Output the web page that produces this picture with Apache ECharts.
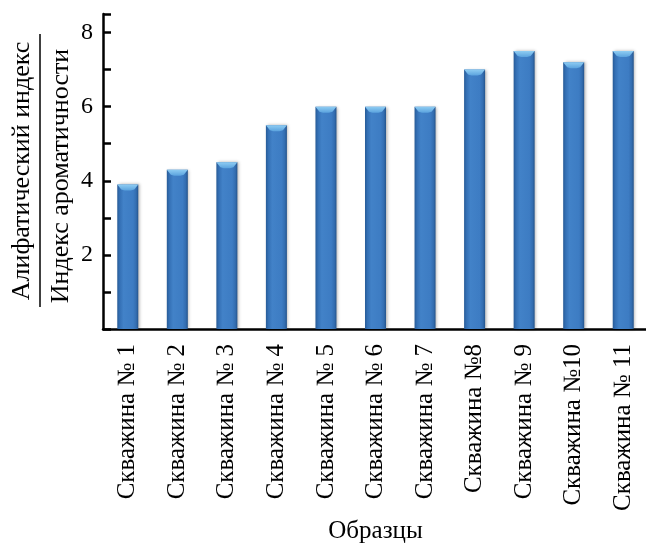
<!DOCTYPE html>
<html>
<head>
<meta charset="utf-8">
<script src="https://cdn.jsdelivr.net/npm/echarts@6/dist/echarts.min.js"></script>
<style>
  html, body { margin: 0; padding: 0; background: #ffffff; }
  #chart { width: 646px; height: 546px; }
</style>
</head>
<body>
<div id="chart"></div>
<script>
// Wells and the aliphatic / aromatic index ratio measured for each sample
var categories = ['Скважина № 1', 'Скважина № 2', 'Скважина № 3', 'Скважина № 4',
  'Скважина № 5', 'Скважина № 6', 'Скважина № 7', 'Скважина №8',
  'Скважина № 9', 'Скважина №10', 'Скважина № 11'];
var ratioValues = [3.9, 4.3, 4.5, 5.5, 6.0, 6.0, 6.0, 7.0, 7.5, 7.2, 7.5];
var yTickLabels = ['2', '4', '6', '8'];

var FONT = '"Liberation Serif", "Times New Roman", serif';

var chart = echarts.init(document.getElementById('chart'), null, { renderer: 'canvas' });

// Bevelled bar face: darker rims at both sides, even blue body
var barFill = new echarts.graphic.LinearGradient(0, 0, 1, 0, [
  { offset: 0.00, color: '#275b97' },
  { offset: 0.12, color: '#3470b5' },
  { offset: 0.30, color: '#4282c8' },
  { offset: 0.75, color: '#3d7cc3' },
  { offset: 0.90, color: '#336db0' },
  { offset: 1.00, color: '#24548c' }
]);

chart.setOption({
  backgroundColor: '#ffffff',
  animation: false,
  grid: { left: 103, right: -2, top: 14, bottom: 217, outerBoundsMode: 'none', containLabel: false },
  xAxis: {
    type: 'category',
    data: categories,
    name: 'Образцы',
    nameLocation: 'middle',
    nameGap: 190,
    nameTextStyle: { fontFamily: FONT, fontSize: 25, color: '#000' },
    axisLine: { lineStyle: { color: '#000', width: 2.5 } },
    axisTick: { inside: true, length: 7, lineStyle: { color: '#000', width: 2.5 } },
    axisLabel: { rotate: 90, margin: 15, fontFamily: FONT, fontSize: 25, color: '#000' }
  },
  yAxis: {
    type: 'value',
    min: 0,
    max: 8.5,
    interval: 2,
    splitLine: { show: false },
    axisLine: { show: true, lineStyle: { color: '#000', width: 2.5 } },
    axisTick: { show: true, inside: true, length: 8, lineStyle: { color: '#000', width: 2.5 } },
    minorTick: { show: true, splitNumber: 2, length: 8, lineStyle: { color: '#000', width: 2.5 } },
    axisLabel: {
      margin: 10,
      fontFamily: FONT, fontSize: 24, color: '#000',
      formatter: function (v) {
        var s = String(v);
        return yTickLabels.indexOf(s) >= 0 ? s : '';
      }
    }
  },
  series: [
    {
      type: 'bar',
      data: ratioValues,
      barWidth: 21,
      itemStyle: {
        color: barFill,
        shadowColor: 'rgba(0,0,0,0.3)',
        shadowBlur: 3,
        shadowOffsetX: 1.5,
        shadowOffsetY: 0
      }
    },
    {
      // light chamfer on the top of each bar
      type: 'custom',
      data: ratioValues.map(function (v, i) { return [i, v]; }),
      z: 3,
      renderItem: function (params, api) {
        var top = api.coord([api.value(0), api.value(1)]);
        var half = 10.5;
        var x0 = top[0] - half, x1 = top[0] + half, y = top[1];
        return {
          type: 'polygon',
          shape: {
            points: [[x0, y], [x1, y], [x1 - 4, y + 5], [top[0] + 3, y + 6], [top[0] - 3, y + 6], [x0 + 4, y + 5]]
          },
          style: {
            fill: new echarts.graphic.LinearGradient(0, 0, 0, 1, [
              { offset: 0, color: '#8fcdf3' },
              { offset: 1, color: '#5ba3de' }
            ])
          }
        };
      }
    }
  ],
  graphic: [
    {
      type: 'text',
      x: 22, y: 171, rotation: Math.PI / 2,
      style: {
        text: 'Алифатический индекс',
        font: '26px ' + FONT, fill: '#000',
        align: 'center', verticalAlign: 'middle'
      }
    },
    {
      type: 'line',
      shape: { x1: 40, y1: 34, x2: 40, y2: 307 },
      style: { stroke: '#000', lineWidth: 1.5 }
    },
    {
      type: 'text',
      x: 61, y: 176, rotation: Math.PI / 2,
      style: {
        text: 'Индекс ароматичности',
        font: '26px ' + FONT, fill: '#000',
        align: 'center', verticalAlign: 'middle'
      }
    }
  ]
});
</script>
</body>
</html>
